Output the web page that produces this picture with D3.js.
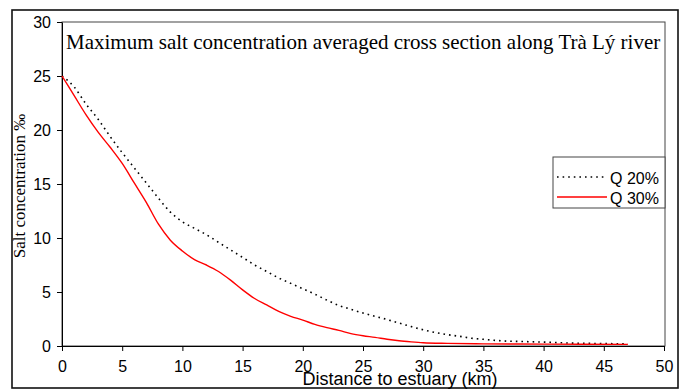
<!DOCTYPE html>
<html>
<head>
<meta charset="utf-8">
<script src="https://cdn.jsdelivr.net/npm/d3@7"></script>
<style>
  body { margin: 0; background: #fff; }
  svg { display: block; }
</style>
</head>
<body>
<svg id="chart" width="686" height="390"></svg>
<script>
// distance to estuary (km)
const q20Km = [0, 1, 2, 3, 4, 5, 6, 7, 8, 9, 10, 11, 12, 13, 14, 15, 16, 17, 18, 19, 20,
  21, 22, 23, 24, 25, 26, 27, 28, 29, 30, 31, 32, 33, 34, 35, 36, 37, 38, 40, 42, 44, 47];
const q20Salt = [25, 24, 22.4, 21, 19.4, 17.9, 16.5, 15.1, 13.7, 12.4, 11.5, 10.9, 10.3, 9.6, 8.9, 8.2,
  7.5, 6.9, 6.3, 5.8, 5.3, 4.8, 4.25, 3.75, 3.4, 3.05, 2.75, 2.45, 2.12, 1.8, 1.5, 1.25, 1.05, 0.9,
  0.72, 0.62, 0.52, 0.45, 0.42, 0.36, 0.28, 0.24, 0.2];

const q30Km = [0, 1, 2, 3, 4, 5, 6, 7, 8, 9, 10, 11, 12, 13, 14, 15, 16, 17, 18, 19, 20,
  21, 22, 23, 24, 25, 26, 27, 28, 29, 30, 32, 35, 40, 47];
const q30Salt = [25, 23.2, 21.4, 19.8, 18.4, 16.9, 15.1, 13.3, 11.3, 9.8, 8.8, 8.0, 7.5, 6.9, 6.1, 5.2,
  4.4, 3.8, 3.2, 2.75, 2.4, 2.0, 1.7, 1.45, 1.15, 0.95, 0.8, 0.62, 0.48, 0.38, 0.3, 0.24, 0.2, 0.17, 0.15];

const xTicks = [0, 5, 10, 15, 20, 25, 30, 35, 40, 45, 50];
const yTicks = [0, 5, 10, 15, 20, 25, 30];

const series = [
  { name: "Q 20%", km: q20Km, salt: q20Salt, color: "#000", width: 1.6, dash: "1.6,4" },
  { name: "Q 30%", km: q30Km, salt: q30Salt, color: "#ff0000", width: 1.4, dash: null }
];

const svg = d3.select("#chart");
const plotLeft = 62, plotRight = 664, plotTop = 22, plotBottom = 346;

const x = d3.scaleLinear().domain([0, 50]).range([plotLeft, plotRight]);
const y = d3.scaleLinear().domain([0, 30]).range([plotBottom, plotTop]);

// outer frame
svg.append("rect")
  .attr("x", 12).attr("y", 10).attr("width", 666).attr("height", 378)
  .attr("fill", "none").attr("stroke", "#111").attr("stroke-width", 1.6);

// plot frame
svg.append("rect")
  .attr("x", plotLeft).attr("y", plotTop)
  .attr("width", plotRight - plotLeft + 1).attr("height", plotBottom - plotTop)
  .attr("fill", "none").attr("stroke", "#444").attr("stroke-width", 1);

const tickFont = "'Liberation Sans', Arial, sans-serif";

const gx = svg.append("g")
  .attr("transform", `translate(0,${plotBottom})`)
  .call(d3.axisBottom(x).tickValues(xTicks).tickSize(5).tickPadding(10).tickSizeOuter(0));
const gy = svg.append("g")
  .attr("transform", `translate(${plotLeft},0)`)
  .call(d3.axisLeft(y).tickValues(yTicks).tickSize(5).tickPadding(6).tickSizeOuter(0));

[gx, gy].forEach(g => {
  g.select(".domain").attr("stroke", "#000");
  g.selectAll(".tick line").attr("stroke", "#000");
  g.selectAll(".tick text")
    .attr("font-family", tickFont).attr("font-size", 16).attr("fill", "#000");
});

const line = d3.line()
  .x(d => x(d[0]))
  .y(d => y(d[1]))
  .curve(d3.curveMonotoneX);

series.forEach(s => {
  svg.append("path")
    .datum(s.km.map((k, i) => [k, s.salt[i]]))
    .attr("d", line)
    .attr("fill", "none")
    .attr("stroke", s.color)
    .attr("stroke-width", s.width)
    .attr("stroke-dasharray", s.dash);
});

// title inside plot
svg.append("text")
  .attr("x", 66).attr("y", 49)
  .attr("font-family", "'Liberation Serif', 'Times New Roman', serif")
  .attr("font-size", 21)
  .text("Maximum salt concentration averaged cross section along Trà Lý river");

// axis titles
svg.append("text")
  .attr("transform", "translate(25,186) rotate(-90)")
  .attr("text-anchor", "middle")
  .attr("font-family", "'Liberation Serif', 'Times New Roman', serif")
  .attr("font-size", 17)
  .text("Salt concentration ‰");

svg.append("text")
  .attr("x", 400).attr("y", 385)
  .attr("text-anchor", "middle")
  .attr("font-family", tickFont)
  .attr("font-size", 18)
  .text("Distance to estuary (km)");

// legend
const legend = svg.append("g");
legend.append("rect")
  .attr("x", 553).attr("y", 157).attr("width", 112).attr("height", 51)
  .attr("fill", "#fff").attr("stroke", "#444").attr("stroke-width", 1);

series.forEach((s, i) => {
  const ly = 177 + i * 20;
  legend.append("line")
    .attr("x1", 557).attr("x2", 607).attr("y1", ly).attr("y2", ly)
    .attr("stroke", s.color).attr("stroke-width", s.width)
    .attr("stroke-dasharray", s.dash);
  legend.append("text")
    .attr("x", 610).attr("y", ly + 7)
    .attr("font-family", tickFont).attr("font-size", 16)
    .text(s.name);
});
</script>
</body>
</html>
